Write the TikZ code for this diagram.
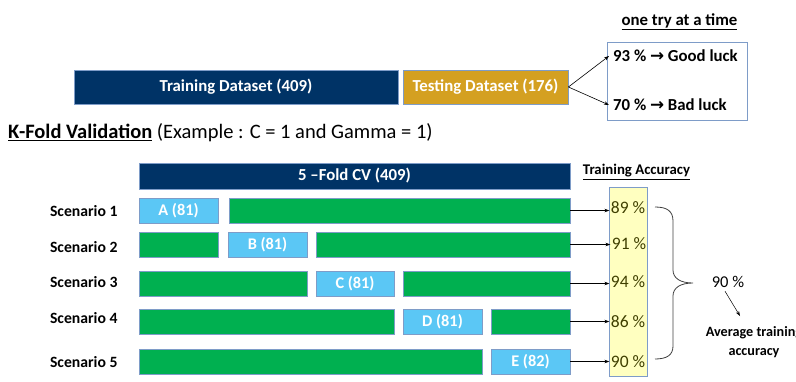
\documentclass[tikz,border=0pt]{standalone}
\usepackage{fontspec}
\setmainfont{Carlito}
\newfontfamily\dejavu{DejaVu Sans}
\usetikzlibrary{arrows.meta}
\definecolor{navy}{HTML}{003366}
\definecolor{gold}{HTML}{D4A021}
\definecolor{grn}{HTML}{00B050}
\definecolor{lblue}{HTML}{5BC7F5}
\definecolor{edge}{HTML}{7E9CC8}
\definecolor{lyellow}{HTML}{FFFFC0}
\definecolor{olive}{HTML}{3F3F00}
\newcommand{\rarr}{{\dejavu\bfseries →}}
\begin{document}
\begin{tikzpicture}[x=1pt,y=-1pt,
  bx/.style={draw=edge,line width=0.8pt,inner sep=0pt,text=white,font=\bfseries\fontsize{16.8}{18}\selectfont},
  grbar/.style={bx,fill=grn,minimum height=25pt},
  fold/.style={bx,fill=lblue,minimum height=25pt,minimum width=79pt,font=\bfseries\fontsize{16.3}{18}\selectfont},
  scen/.style={anchor=east,font=\bfseries\fontsize{15.7}{18}\selectfont},
  pct/.style={text=olive,font=\fontsize{17.5}{19}\selectfont},
  arr/.style={-{Stealth[length=5pt,width=3.5pt]},line width=0.6pt,black}]
\useasboundingbox (0,0) rectangle (796,381);
\clip (0,0) rectangle (796,381);
% top row
\node[bx,fill=navy,minimum width=324pt,minimum height=34pt] (train) at (236,87) {Training Dataset (409)};
\node[bx,fill=gold,minimum width=165pt,minimum height=34pt] (test) at (485.5,87) {Testing Dataset (176)};
\node[draw=edge,line width=0.8pt,minimum width=140pt,minimum height=78pt,inner sep=0pt] (res) at (677,81) {};
\node[anchor=west,inner sep=0pt,font=\bfseries\fontsize{16.8}{18}\selectfont] (good) at (613,56) {93 \% \rarr\ Good luck};
\node[anchor=west,inner sep=0pt,font=\bfseries\fontsize{16.8}{18}\selectfont] (bad) at (613,105) {70 \% \rarr\ Bad luck};
\node[font=\bfseries\fontsize{16.8}{18}\selectfont] (once) at (679.5,22) {\underline{one try at a time}};
\draw[arr] (test.east) -- ([xshift=-4pt]good.west);
\draw[arr] (test.east) -- ([xshift=-4pt]bad.west);
% heading
\node[anchor=west,inner sep=0pt,font=\fontsize{20.5}{22}\selectfont] (head) at (8,133) {\textbf{\underline{K-Fold Validation}} (Example : C = 1 and Gamma = 1)};
% CV header
\node[bx,fill=navy,minimum width=431pt,minimum height=26pt] (cv) at (354.5,176) {5 –Fold CV (409)};
\node[font=\bfseries\fontsize{14.8}{16}\selectfont] (tacc) at (636.5,172) {\underline{Training Accuracy}};
% yellow column
\node[draw=edge,line width=0.8pt,fill=lyellow,minimum width=38pt,minimum height=189pt,inner sep=0pt] (col) at (628,281.5) {};
% scenario labels
\node[scen] (s1) at (121,211) {Scenario 1};
\node[scen] (s2) at (121,247) {Scenario 2};
\node[scen] (s3) at (121,282) {Scenario 3};
\node[scen] (s4) at (121,318) {Scenario 4};
\node[scen] (s5) at (121,362) {Scenario 5};
% row 1
\node[fold] (a) at (178.5,210.5) {A (81)};
\node[grbar,minimum width=341pt] (g1) at (399.5,210.5) {};
% row 2
\node[grbar,minimum width=79pt] (g2a) at (178.5,244.5) {};
\node[fold] (b) at (267.5,244.5) {B (81)};
\node[grbar,minimum width=254pt] (g2) at (443,244.5) {};
% row 3
\node[grbar,minimum width=168pt] (g3a) at (223,283.5) {};
\node[fold,minimum width=78pt] (c) at (355,283.5) {C (81)};
\node[grbar,minimum width=167pt] (g3) at (486.5,283.5) {};
% row 4
\node[grbar,minimum width=255pt] (g4a) at (266.5,321.5) {};
\node[fold] (d) at (442.5,321.5) {D (81)};
\node[grbar,minimum width=79pt] (g4) at (530.5,321.5) {};
% row 5
\node[grbar,minimum width=343pt] (g5a) at (310.5,361.5) {};
\node[fold] (e) at (530.5,361.5) {E (82)};
% percentages
\node[pct] (p1) at (628,208) {89 \%};
\node[pct] (p2) at (629,244) {91 \%};
\node[pct] (p3) at (628,282) {94 \%};
\node[pct] (p4) at (628,322) {86 \%};
\node[pct] (p5) at (628,362) {90 \%};
\draw[arr] (g1.east) -- ([xshift=2pt]p1.west |- g1.east);
\draw[arr] (g2.east) -- ([xshift=2pt]p2.west |- g2.east);
\draw[arr] (g3.east) -- ([xshift=2pt]p3.west |- g3.east);
\draw[arr] (g4.east) -- ([xshift=2pt]p4.west |- g4.east);
\draw[arr] (e.east) -- ([xshift=2pt]p5.west |- e.east);
% brace
\draw[line width=0.8pt,black!75] (655,207) .. controls (667,207) and (673,211) .. (673,221) -- (673,270)
  .. controls (673,278) and (680,283) .. (693,283)
  .. controls (680,283) and (673,288) .. (673,296) -- (673,346)
  .. controls (673,355) and (667,359) .. (655,359);
% average
\node[font=\fontsize{16.5}{18}\selectfont] (avgp) at (728,282) {90 \%};
\node[align=center,font=\bfseries\fontsize{14.2}{19}\selectfont] (avg) at (754,342) {Average training\\accuracy};
\coordinate (avgtip) at (740,316);
\draw[-{Stealth[length=5pt,width=3.5pt]},line width=0.5pt] ([xshift=-3pt]avgp.south) -- (avgtip);
\end{tikzpicture}
\end{document}
